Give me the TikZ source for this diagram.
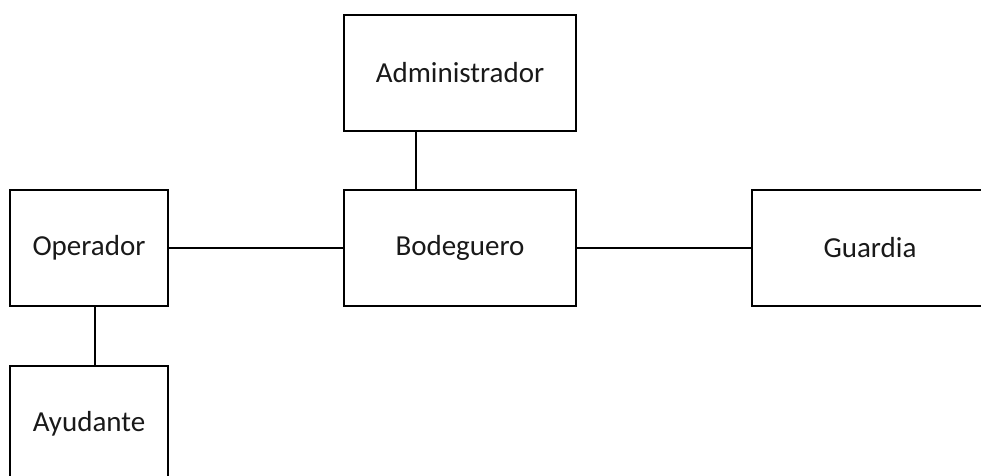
\documentclass[tikz,border=0pt]{standalone}
\usepackage{fontspec}
\setmainfont{Carlito}
\begin{document}
\begin{tikzpicture}[x=1pt,y=-1pt,
  rolebox/.style={draw=black, line width=1.5pt, rectangle, inner sep=0pt,
    font=\fontsize{29}{34}\selectfont, text=black!90},
  link/.style={draw=black, line width=1.5pt}]
\useasboundingbox (0,0) rectangle (981,475);
\clip (0,0) rectangle (981,475);
\node[rolebox, minimum width=232pt, minimum height=116pt] (adm) at (460,73) {Administrador};
\node[rolebox, minimum width=232pt, minimum height=116pt] (bod) at (460,248) {Bodeguero};
\node[rolebox, minimum width=158pt, minimum height=116pt] (op) at (89,248) {Operador};
\node[rolebox, minimum width=236pt, minimum height=116pt] (gua) at (870,248) {Guardia};
\node[rolebox, minimum width=158pt, minimum height=116pt] (ayu) at (89,424) {Ayudante};
\coordinate (ax) at (416,0);
\coordinate (ox) at (95,0);
\draw[link] (adm.south -| ax) -- (bod.north -| ax);
\draw[link] (op.east) -- (bod.west);
\draw[link] (bod.east) -- (gua.west);
\draw[link] (op.south -| ox) -- (ayu.north -| ox);
\end{tikzpicture}
\end{document}
